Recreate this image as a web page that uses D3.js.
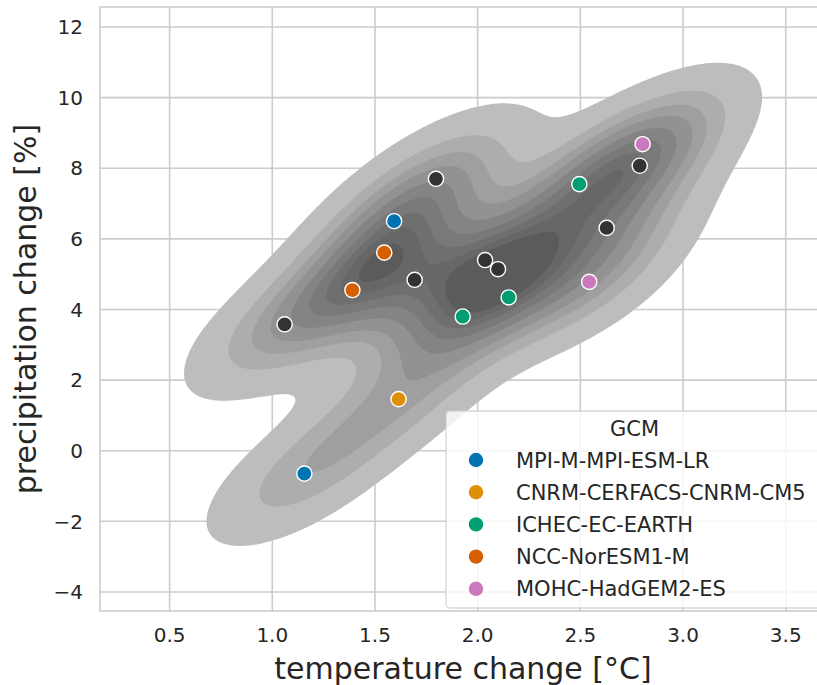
<!DOCTYPE html>
<html>
<head>
<meta charset="utf-8">
<script src="https://cdn.jsdelivr.net/npm/d3@7"></script>
<style>
	body { margin: 0; background: #fff; }
	svg { display: block; font-family: 'DejaVu Sans', sans-serif; }
</style>
</head>
<body>
<svg id="chart" width="817" height="685"></svg>
<script>
// legend order, seaborn "colorblind" palette
const gcmNames = ['MPI-M-MPI-ESM-LR', 'CNRM-CERFACS-CNRM-CM5', 'ICHEC-EC-EARTH', 'NCC-NorESM1-M', 'MOHC-HadGEM2-ES']
const gcmColors = ['#0173b2', '#de8f05', '#029e73', '#d55e00', '#cc78bc']
const otherColor = '#333333'

// one entry per simulation, gcm = -1 means not in the legend
const tempChange = [1.06, 1.797, 1.693, 2.036, 2.099, 2.628, 2.789, 1.593, 1.156, 1.615, 2.495, 2.151, 1.927, 1.545, 1.39, 2.803, 2.543]
const precipChange = [3.58, 7.70, 4.84, 5.40, 5.14, 6.31, 8.07, 6.50, -0.65, 1.46, 7.55, 4.34, 3.80, 5.61, 4.55, 8.68, 4.78]
const gcm = [-1, -1, -1, -1, -1, -1, -1, 0, 0, 1, 2, 2, 2, 3, 3, 4, 4]

const xTicks = [0.5, 1.0, 1.5, 2.0, 2.5, 3.0, 3.5]
const yTicks = [-4, -2, 0, 2, 4, 6, 8, 10, 12]
const xDomain = [0.161, 3.696]
const yDomain = [-4.54, 12.566]

const KDE_LEVELS = 10
const KDE_THRESH = 0.04
const KDE_BW_ADJUST = 0.85
const KDE_CUT = 3
const KDE_GRID = 200

const margin = { left: 100, right: 826, top: 7, bottom: 611 }

const linspace = (a, b, n) => d3.range(n).map(i => (i === n - 1 ? b : a + (b - a) * i / (n - 1)))

// scipy-style gaussian_kde, scott bandwidth
const fitKde = (xs, ys) => {
	const n = xs.length
	const mx = d3.mean(xs)
	const my = d3.mean(ys)
	let sxx = 0, syy = 0, sxy = 0
	xs.forEach((x, i) => {
		sxx += (x - mx) ** 2
		syy += (ys[i] - my) ** 2
		sxy += (x - mx) * (ys[i] - my)
	})
	const f2 = (Math.pow(n, -1 / 6) * KDE_BW_ADJUST) ** 2
	const cxx = sxx / (n - 1) * f2
	const cyy = syy / (n - 1) * f2
	const cxy = sxy / (n - 1) * f2
	const det = cxx * cyy - cxy * cxy
	const ixx = cyy / det, iyy = cxx / det, ixy = -cxy / det
	const norm = n * 2 * Math.PI * Math.sqrt(det)
	const density = (x, y) => {
		let s = 0
		for (let i = 0; i < n; i++) {
			const dx = x - xs[i]
			const dy = y - ys[i]
			s += Math.exp(-0.5 * (ixx * dx * dx + 2 * ixy * dx * dy + iyy * dy * dy))
		}
		return s / norm
	}
	return { density, bwX: Math.sqrt(cxx), bwY: Math.sqrt(cyy) }
}

const drawChart = () => {
	const svg = d3.select('#chart')
	const x = d3.scaleLinear().domain(xDomain).range([margin.left, margin.right])
	const y = d3.scaleLinear().domain(yDomain).range([margin.bottom, margin.top])

	svg.append('clipPath').attr('id', 'plot-clip')
		.append('rect')
		.attr('x', margin.left).attr('y', margin.top)
		.attr('width', margin.right - margin.left).attr('height', margin.bottom - margin.top)

	// grid
	const grid = svg.append('g').attr('stroke', '#cccccc').attr('stroke-width', 1.6)
	grid.selectAll('.gx').data(xTicks).enter().append('line')
		.attr('x1', d => x(d)).attr('x2', d => x(d))
		.attr('y1', margin.top).attr('y2', margin.bottom)
	grid.selectAll('.gy').data(yTicks).enter().append('line')
		.attr('x1', margin.left).attr('x2', margin.right)
		.attr('y1', d => y(d)).attr('y2', d => y(d))

	// density
	const kde = fitKde(tempChange, precipChange)
	const gx = linspace(d3.min(tempChange) - KDE_CUT * kde.bwX, d3.max(tempChange) + KDE_CUT * kde.bwX, KDE_GRID)
	const gy = linspace(d3.min(precipChange) - KDE_CUT * kde.bwY, d3.max(precipChange) + KDE_CUT * kde.bwY, KDE_GRID)
	const values = new Float64Array(KDE_GRID * KDE_GRID)
	gy.forEach((yy, j) => gx.forEach((xx, i) => { values[j * KDE_GRID + i] = kde.density(xx, yy) }))

	const sorted = Array.from(values).sort((a, b) => b - a)
	const total = d3.sum(sorted)
	let acc = 0
	const cum = sorted.map(v => (acc += v) / total)
	const props = linspace(KDE_THRESH, 1, KDE_LEVELS)
	const levels = props.map(p => sorted[Math.min(d3.bisectLeft(cum, 1 - p), sorted.length - 1)])

	const lo = levels[0]
	const hi = levels[levels.length - 1]
	const bandColor = i => {
		const mid = (levels[i] + levels[i + 1]) / 2
		const k = Math.min(255, Math.floor((mid - lo) / (hi - lo) * 256))
		return d3.lab(80 - 45 * k / 255, 0, 0).formatHex()
	}

	const stepX = gx[1] - gx[0]
	const stepY = gy[1] - gy[0]
	const path = d3.geoPath(d3.geoTransform({
		point (px, py) {
			this.stream.point(x(gx[0] + (px - 0.5) * stepX), y(gy[0] + (py - 0.5) * stepY))
		}
	}))
	const contours = d3.contours().size([KDE_GRID, KDE_GRID]).thresholds(levels.slice(0, -1))(values)

	svg.append('g').attr('clip-path', 'url(#plot-clip)')
		.selectAll('path').data(contours).enter().append('path')
		.attr('d', path)
		.attr('fill', (d, i) => bandColor(i))

	// spines
	svg.append('rect')
		.attr('x', margin.left).attr('y', margin.top)
		.attr('width', margin.right - margin.left).attr('height', margin.bottom - margin.top)
		.attr('fill', 'none').attr('stroke', '#cccccc').attr('stroke-width', 1.6)

	// points
	const pts = tempChange.map((t, i) => ({ t, p: precipChange[i], g: gcm[i] }))
	svg.append('g').selectAll('circle').data(pts).enter().append('circle')
		.attr('cx', d => x(d.t)).attr('cy', d => y(d.p)).attr('r', 7.6)
		.attr('fill', d => (d.g < 0 ? otherColor : gcmColors[d.g]))
		.attr('stroke', '#fff').attr('stroke-width', 1.4)

	// tick labels
	const text = svg.append('g').attr('fill', '#262626')
	text.selectAll('.tx').data(xTicks).enter().append('text')
		.attr('x', d => x(d)).attr('y', 642)
		.attr('text-anchor', 'middle').attr('font-size', 20)
		.text(d => d.toFixed(1))
	text.selectAll('.ty').data(yTicks).enter().append('text')
		.attr('x', 83).attr('y', d => y(d)).attr('dy', '0.36em')
		.attr('text-anchor', 'end').attr('font-size', 20)
		.text(d => (d < 0 ? '\u2212' + Math.abs(d) : d))

	text.append('text')
		.attr('x', (margin.left + margin.right) / 2).attr('y', 679)
		.attr('text-anchor', 'middle').attr('font-size', 30)
		.text('temperature change [°C]')
	text.append('text')
		.attr('transform', `translate(36,${(margin.top + margin.bottom) / 2}) rotate(-90)`)
		.attr('text-anchor', 'middle').attr('font-size', 30)
		.text('precipitation change [%]')

	// legend
	const lg = svg.append('g')
	lg.append('rect')
		.attr('x', 446).attr('y', 411).attr('width', 377).attr('height', 197).attr('rx', 4)
		.attr('fill', '#fff').attr('fill-opacity', 0.8)
		.attr('stroke', '#cccccc').attr('stroke-opacity', 0.8).attr('stroke-width', 1.3)
	lg.append('text')
		.attr('x', 634.5).attr('y', 428).attr('dy', '0.36em')
		.attr('text-anchor', 'middle').attr('font-size', 21).attr('fill', '#262626')
		.text('GCM')
	const rows = lg.selectAll('.row').data(gcmNames).enter().append('g')
		.attr('transform', (d, i) => `translate(0,${460 + i * 32.2})`)
	rows.append('circle').attr('cx', 476).attr('r', 7.2).attr('fill', (d, i) => gcmColors[i])
	rows.append('text')
		.attr('x', 516).attr('dy', '0.36em').attr('font-size', 21).attr('fill', '#262626')
		.text(d => d)
}

drawChart()
</script>
</body>
</html>
